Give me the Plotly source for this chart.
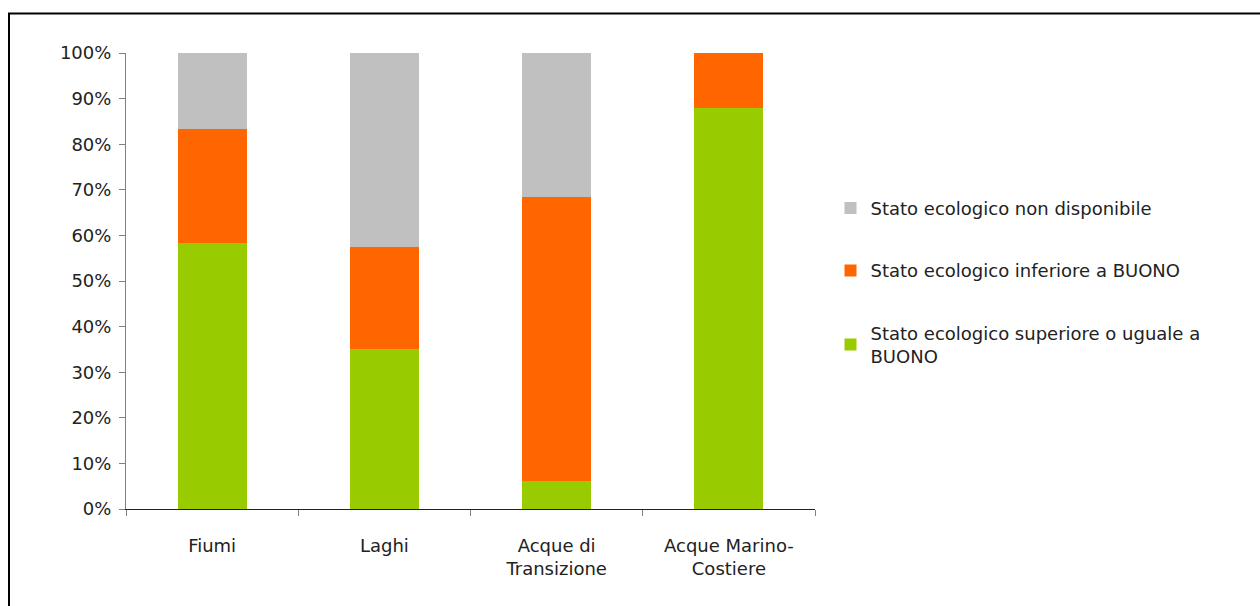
import plotly.graph_objects as go

categories = ["Fiumi", "Laghi", "Acque di<br>Transizione", "Acque Marino-<br>Costiere"]
superiore = [58.3, 35.0, 6.1, 88.0]
inferiore = [25.0, 22.4, 62.3, 12.0]
non_disp = [16.7, 42.6, 31.6, 0.0]

names = ["Stato ecologico superiore o uguale a<br>BUONO",
         "Stato ecologico inferiore a BUONO",
         "Stato ecologico non disponibile"]
colors = ["#99CC00", "#FF6600", "#C0C0C0"]
series = [superiore, inferiore, non_disp]

FONT = "'DejaVu Sans', sans-serif"

fig = go.Figure()
for i, (name, vals, col) in enumerate(zip(names, series, colors)):
    fig.add_trace(go.Bar(x=categories, y=vals, name=name, legendgroup=f"g{i}",
                         legendrank=3 - i,
                         marker=dict(color=col, line=dict(width=0)), width=0.4))

fig.update_layout(
    barmode="stack",
    width=1260, height=606,
    margin=dict(l=126, r=445, t=53, b=97),
    paper_bgcolor="white", plot_bgcolor="white",
    font=dict(family=FONT, size=18, color="#222222"),
    showlegend=True,
    legend=dict(x=1.0225, y=0.70, xanchor="left", yanchor="top", traceorder="grouped",
                font=dict(size=18, color="#222222"), tracegroupgap=36, itemsizing="constant",
                itemwidth=30),
    yaxis=dict(range=[0, 100], tickvals=list(range(0, 101, 10)),
               ticktext=[f"{v}%" for v in range(0, 101, 10)],
               showgrid=False, zeroline=False, showline=True, linecolor="#808080", linewidth=1,
               ticks="outside", ticklen=6, tickcolor="#808080", ticklabelstandoff=4),
    xaxis=dict(showgrid=False, showline=True, linecolor="#222222", linewidth=1,
               ticks="outside", ticklen=6, tickcolor="#808080", tickson="boundaries",
               ticklabelstandoff=20),
    bargap=0.6,
    shapes=[dict(type="rect", xref="paper", yref="paper",
                 x0=(9 - 126) / 689, x1=(1300 - 126) / 689,
                 y0=(509 - 640) / 456, y1=(509 - 13.5) / 456,
                 line=dict(color="black", width=2), layer="below")],
)

fig.write_html("out.html")
